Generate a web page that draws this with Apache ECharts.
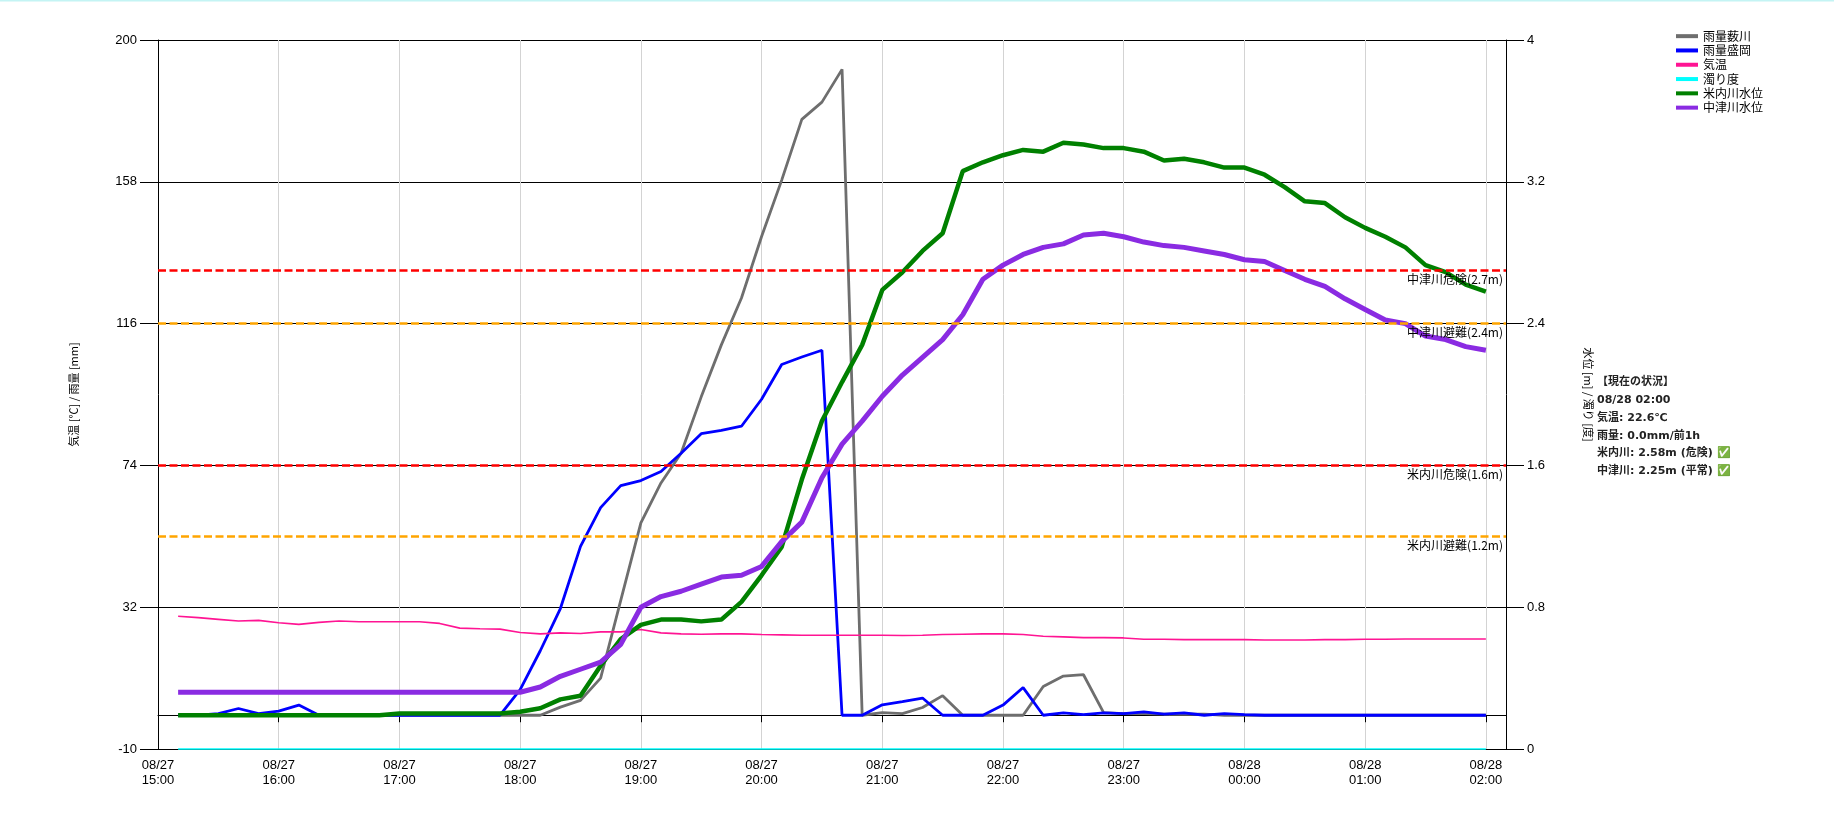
<!DOCTYPE html>
<html><head><meta charset="utf-8">
<script src="https://cdn.jsdelivr.net/npm/echarts@6/dist/echarts.min.js"></script>
<style>html,body{margin:0;padding:0;background:#fff;}#c{width:1834px;height:825px;}</style>
</head><body><div id="c"></div>
<script>
// ---- categories (10-minute steps, axis spans 15:00 .. 02:10) ----
const categories = [
'08/27 15:00','08/27 15:10','08/27 15:20','08/27 15:30','08/27 15:40','08/27 15:50',
'08/27 16:00','08/27 16:10','08/27 16:20','08/27 16:30','08/27 16:40','08/27 16:50',
'08/27 17:00','08/27 17:10','08/27 17:20','08/27 17:30','08/27 17:40','08/27 17:50',
'08/27 18:00','08/27 18:10','08/27 18:20','08/27 18:30','08/27 18:40','08/27 18:50',
'08/27 19:00','08/27 19:10','08/27 19:20','08/27 19:30','08/27 19:40','08/27 19:50',
'08/27 20:00','08/27 20:10','08/27 20:20','08/27 20:30','08/27 20:40','08/27 20:50',
'08/27 21:00','08/27 21:10','08/27 21:20','08/27 21:30','08/27 21:40','08/27 21:50',
'08/27 22:00','08/27 22:10','08/27 22:20','08/27 22:30','08/27 22:40','08/27 22:50',
'08/27 23:00','08/27 23:10','08/27 23:20','08/27 23:30','08/27 23:40','08/27 23:50',
'08/28 00:00','08/28 00:10','08/28 00:20','08/28 00:30','08/28 00:40','08/28 00:50',
'08/28 01:00','08/28 01:10','08/28 01:20','08/28 01:30','08/28 01:40','08/28 01:50',
'08/28 02:00','08/28 02:10'
];

// ---- series values: 15:10 .. 02:00 ----
const rainYabukawa = [
0,0,0,0,0, 0,0,0,0,0, 0,0,0,0,0, 0,0,
0,0,2.4,4.4,11,34, 57,68.8,77.6,94.3,109.7,123.6, 141.8,158.5,176.5,181.6,191.3,0,
0.8,0.5,2.3,5.8,0,0, 0,0,8.5,11.6,12,0.8, 0.5,0.5,0.3,0.3,0.3,0,
0,0,0,0,0,0, 0,0,0,0,0,0, 0
];
const rainMorioka = [
0,0,0.5,2,0.5, 1.2,3,0,0,0, 0,0,0,0,0, 0,0,
7.6,19.1,31.6,50.0,61.5,68.0, 69.5,72.2,77.6,83.4,84.4,85.6, 93.6,103.9,106.1,108.1,0,0,
3.1,4.0,5.1,0,0,0, 3,8.2,0,0.7,0.2,0.7, 0.5,1,0.3,0.7,0,0.5,
0.2,0,0,0,0,0, 0,0,0,0,0,0, 0
];
const temperature = [
29.3,28.9,28.4,27.9,28.1, 27.4,26.9,27.5,27.9,27.7, 27.7,27.7,27.7,27.2,25.8, 25.6,25.5,
24.5,24.1,24.4,24.2,24.7,24.7, 25.4,24.4,24.1,24.0,24.1,24.1, 23.9,23.8,23.7,23.7,23.7,23.7,
23.7,23.6,23.7,23.9,24.0,24.1, 24.1,23.9,23.4,23.2,23.0,23.0, 22.9,22.5,22.5,22.4,22.4,22.4,
22.4,22.3,22.3,22.3,22.4,22.4, 22.5,22.5,22.6,22.6,22.6,22.6, 22.6
];
const turbidity = [
0,0,0,0,0, 0,0,0,0,0, 0,0,0,0,0, 0,0,
0,0,0,0,0,0, 0,0,0,0,0,0, 0,0,0,0,0,0,
0,0,0,0,0,0, 0,0,0,0,0,0, 0,0,0,0,0,0,
0,0,0,0,0,0, 0,0,0,0,0,0, 0
];
const levelYonai = [
0.19,0.19,0.19,0.19,0.19, 0.19,0.19,0.19,0.19,0.19, 0.19,0.2,0.2,0.2,0.2, 0.2,0.2,
0.21,0.23,0.28,0.30,0.47,0.62, 0.70,0.73,0.73,0.72,0.73,0.83, 0.98,1.14,1.52,1.85,2.07,2.28,
2.59,2.69,2.81,2.91,3.26,3.31, 3.35,3.38,3.37,3.42,3.41,3.39, 3.39,3.37,3.32,3.33,3.31,3.28,
3.28,3.24,3.17,3.09,3.08,3.0, 2.94,2.89,2.83,2.73,2.69,2.62, 2.58
];
const levelNakatsu = [
0.32,0.32,0.32,0.32,0.32, 0.32,0.32,0.32,0.32,0.32, 0.32,0.32,0.32,0.32,0.32, 0.32,0.32,
0.32,0.35,0.41,0.45,0.49,0.59, 0.80,0.86,0.89,0.93,0.97,0.98, 1.03,1.17,1.28,1.53,1.72,1.85,
1.99,2.11,2.21,2.31,2.45,2.65, 2.73,2.79,2.83,2.85,2.90,2.91, 2.89,2.86,2.84,2.83,2.81,2.79,
2.76,2.75,2.70,2.65,2.61,2.54, 2.48,2.42,2.40,2.33,2.31,2.27, 2.25
];

// ---- names / thresholds / status ----
const seriesNames = ['雨量薮川','雨量盛岡','気温','濁り度','米内川水位','中津川水位'];
const thresholdValues = [2.7, 2.4, 1.6, 1.2];
const thresholdLabels = ['中津川危険(2.7m)','中津川避難(2.4m)','米内川危険(1.6m)','米内川避難(1.2m)'];
const statusLines = ['【現在の状況】','08/28 02:00','気温: 22.6℃','雨量: 0.0mm/前1h','米内川: 2.58m (危険) ✅','中津川: 2.25m (平常) ✅'];
const leftAxisName = '気温 [℃] / 雨量 [mm]';
const rightAxisName = '水位 [m] / 濁り [度]';

// styles
const thresholdColors = ['#ff0000','#ffa500','#ff0000','#ffa500'];
const cjk = '"Noto Sans CJK JP", sans-serif';

function pairs(vals){ return vals.map((v,i)=>[categories[i+1], v]); }

const chart = echarts.init(document.getElementById('c'), null, {renderer:'canvas'});
const option = {
  animation:false,
  backgroundColor:'#fff',
  grid:{left:158, right:328, top:40, bottom:76, containLabel:false},
  legend:{
    orient:'vertical', left:1676, top:29, padding:0, itemWidth:22, itemHeight:4, itemGap:0, icon:'rect',
    selectedMode:false, data:seriesNames,
    textStyle:{fontSize:12, lineHeight:14.3, color:'#000', fontFamily:cjk}
  },
  xAxis:{
    type:'category', data:categories, boundaryGap:false,
    axisLine:{show:true, lineStyle:{color:'#000', width:1}},
    axisTick:{show:true, interval:5, length:7, lineStyle:{color:'#000'}},
    axisLabel:{interval:5, margin:9, color:'#000', fontSize:13, lineHeight:15,
      fontFamily:'"Liberation Sans Narrow", "Liberation Sans", sans-serif',
      formatter:(v)=>v.replace(' ','\n')},
    splitLine:{show:true, interval:5, lineStyle:{color:'#d3d3d3', width:1}}
  },
  yAxis:[{
    type:'value', min:-10, max:200, interval:42, position:'left',
    name:leftAxisName, nameLocation:'middle', nameGap:79,
    nameTextStyle:{fontSize:11, color:'#000', fontFamily:cjk},
    axisLine:{show:true, lineStyle:{color:'#000'}},
    axisTick:{show:true, length:18, lineStyle:{color:'#000'}},
    axisLabel:{margin:21, color:'#000', fontSize:13, fontFamily:'"Liberation Sans", sans-serif'},
    splitLine:{show:true, lineStyle:{color:'#000', width:1}}
  },{
    type:'value', min:0, max:4, interval:0.8, position:'right',
    name:rightAxisName, nameLocation:'middle', nameGap:77, nameRotate:-90,
    nameTextStyle:{fontSize:11, color:'#000', fontFamily:cjk},
    axisLine:{show:true, lineStyle:{color:'#000'}},
    axisTick:{show:true, length:18, lineStyle:{color:'#000'}},
    axisLabel:{margin:21, color:'#000', fontSize:13, fontFamily:'"Liberation Sans", sans-serif'},
    splitLine:{show:false}
  }],
  series:[
    {name:'濁り度', type:'line', yAxisIndex:1, data:pairs(turbidity), symbol:'none', showSymbol:false,
     color:'#00ffff', lineStyle:{color:'#00ffff', width:1.5}, clip:false,
     markLine:{symbol:['none','none'], silent:true, animation:false,
       label:{show:true, position:'insideEndBottom', color:'#000', fontSize:12, distance:3, fontFamily:cjk},
       data:thresholdValues.map((v,i)=>({yAxis:v, label:{formatter:thresholdLabels[i]},
         lineStyle:{color:thresholdColors[i], type:[8,3.5], width:2.5}}))}},
    {name:'雨量薮川', type:'line', yAxisIndex:0, data:pairs(rainYabukawa), symbol:'none', showSymbol:false,
     color:'#6e6e6e', lineStyle:{color:'#6e6e6e', width:2.8}},
    {name:'雨量盛岡', type:'line', yAxisIndex:0, data:pairs(rainMorioka), symbol:'none', showSymbol:false,
     color:'#0000ff', lineStyle:{color:'#0000ff', width:2.8}},
    {name:'気温', type:'line', yAxisIndex:0, data:pairs(temperature), symbol:'none', showSymbol:false,
     color:'#ff1493', lineStyle:{color:'#ff1493', width:1.6}},
    {name:'米内川水位', type:'line', yAxisIndex:1, data:pairs(levelYonai), symbol:'none', showSymbol:false,
     color:'#008000', lineStyle:{color:'#008000', width:4.5}},
    {name:'中津川水位', type:'line', yAxisIndex:1, data:pairs(levelNakatsu), symbol:'none', showSymbol:false,
     color:'#8a2be2', lineStyle:{color:'#8a2be2', width:5}}
  ],
  graphic:[
    {type:'rect', left:0, top:0, silent:true, shape:{width:1834, height:1.5}, style:{fill:'#c4f4f4'}},
    {type:'text', left:1597, top:373, silent:true,
     style:{text:statusLines.join('\n'), font:'bold 11px "DejaVu Sans", "Noto Sans CJK JP", sans-serif',
       lineHeight:17.9, fill:'#222'}}
  ]
};
chart.setOption(option);
</script>
</body></html>
